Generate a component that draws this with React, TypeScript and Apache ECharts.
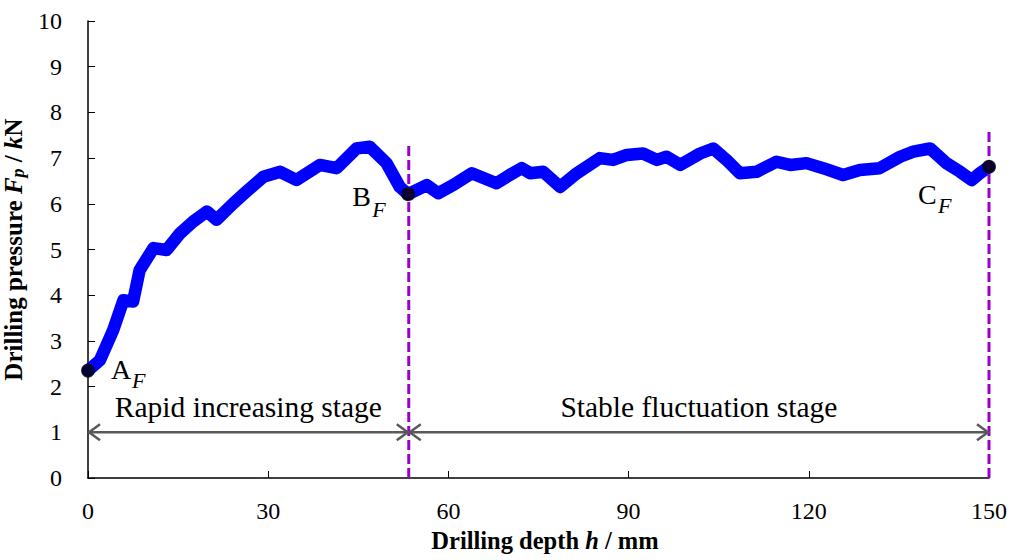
import React, { useEffect, useRef } from "react";
import * as echarts from "echarts";

// Drilling depth (mm) and drilling pressure (kN)
const depth = [0, 2.0, 4.2, 5.9, 7.5, 8.6, 10.9, 13.1, 15.3, 17.5, 19.8, 21.4, 24.2, 26.4, 29.2, 32.0, 34.7, 38.6, 41.4, 44.7, 46.9, 49.7, 51.9, 53.3, 56.4, 58.3, 60.8, 63.9, 68.0, 70.2, 72.2, 73.6, 75.8, 78.6, 81.4, 85.2, 87.4, 89.7, 92.4, 94.7, 96.3, 98.6, 101.9, 104.1, 106.3, 108.5, 111.3, 114.6, 116.9, 119.6, 122.4, 125.7, 128.5, 131.8, 135.2, 137.4, 140.2, 142.9, 145.2, 147.1, 148.5, 150];
const pressure = [2.35, 2.58, 3.24, 3.89, 3.86, 4.55, 5.03, 4.99, 5.35, 5.61, 5.83, 5.65, 6.01, 6.27, 6.59, 6.70, 6.52, 6.85, 6.78, 7.21, 7.25, 6.89, 6.37, 6.21, 6.41, 6.23, 6.41, 6.67, 6.45, 6.63, 6.78, 6.67, 6.70, 6.37, 6.67, 7.00, 6.96, 7.07, 7.10, 6.96, 7.03, 6.85, 7.10, 7.21, 6.96, 6.67, 6.70, 6.92, 6.85, 6.89, 6.78, 6.63, 6.74, 6.78, 7.03, 7.14, 7.21, 6.89, 6.70, 6.52, 6.67, 6.81];

// Key points A_F, B_F, C_F
const keyNames = ["A", "B", "C"];
const keyDepth = [0, 53.3, 150];
const keyPressure = [2.35, 6.21, 6.81];

// Stage boundaries (dashed lines) and their top values
const boundaryDepth = [53.4, 150];
const boundaryTop = [7.35, 7.6];

// Stages
const stageNames = ["Rapid increasing stage", "Stable fluctuation stage"];
const stageStart = [0, 53.4];
const stageEnd = [53.4, 150];
const stageArrowLevel = 1;
const stageTextLevel = 1.56;

// Axis ticks
const xTicks = { min: 0, max: 150, interval: 30 };
const yTicks = { min: 0, max: 10, interval: 1 };

const FONT = "Liberation Serif";

// pixel offsets of key-point labels (text middle): [letterDx, letterDy, subDx, subDy]
const labelOffsets: Record<string, number[]> = {
  A: [23, -1, 44, 10],
  B: [-56, 2.5, -36, 15.5],
  C: [-71, 27.5, -51, 38.5],
};

export default function App() {
  const ref = useRef<HTMLDivElement>(null);
  useEffect(() => {
    if (!ref.current) return;
    const chart = echarts.init(ref.current, undefined, { renderer: "svg" });
    const lineData = depth.map((d, i) => [d, pressure[i]]);
    const option: any = {
      animation: false,
      backgroundColor: "#ffffff",
      textStyle: { fontFamily: FONT },
      grid: { left: 88, right: 24, top: 21, bottom: 82, containLabel: false, outerBoundsMode: "none" },
      xAxis: {
        type: "value",
        min: xTicks.min,
        max: xTicks.max,
        interval: xTicks.interval,
        splitLine: { show: false },
        axisLine: { lineStyle: { color: "#000", width: 1.5 } },
        axisTick: { inside: true, length: 7, lineStyle: { color: "#000", width: 1 } },
        axisLabel: { fontFamily: FONT, fontSize: 24, color: "#000", margin: 21 },
        name: "Drilling depth {i|h} / mm",
        nameLocation: "middle",
        nameGap: 40,
        nameTextStyle: {
          fontFamily: FONT,
          fontSize: 24.5,
          fontWeight: "bold",
          color: "#000",
          padding: [0, 0, 0, 13],
          rich: {
            i: { fontFamily: FONT, fontSize: 24.5, fontWeight: "bold", fontStyle: "italic", color: "#000" },
          },
        },
      },
      yAxis: {
        type: "value",
        min: yTicks.min,
        max: yTicks.max,
        interval: yTicks.interval,
        splitLine: { show: false },
        axisLine: { show: true, lineStyle: { color: "#000", width: 1.5 } },
        axisTick: { show: true, inside: true, length: 7, lineStyle: { color: "#000", width: 1 } },
        axisLabel: { fontFamily: FONT, fontSize: 24, color: "#000", margin: 26 },
        name: "Drilling pressure {i|F}{s|p} / {i|k}N",
        nameLocation: "middle",
        nameGap: 55,
        nameTextStyle: {
          fontFamily: FONT,
          fontSize: 25,
          fontWeight: "bold",
          color: "#000",
          rich: {
            i: { fontFamily: FONT, fontSize: 25, fontWeight: "bold", fontStyle: "italic", color: "#000" },
            s: { fontFamily: FONT, fontSize: 18, fontWeight: "bold", fontStyle: "italic", color: "#000", padding: [9, 0, 0, 0] },
          },
        },
      },
      series: [
        {
          type: "line",
          data: lineData,
          showSymbol: false,
          clip: false,
          lineStyle: { color: "#0000FF", width: 12.5, join: "round", cap: "round" },
          z: 2,
        },
        {
          type: "custom",
          data: boundaryDepth.map((d, i) => [d, boundaryTop[i]]),
          clip: false,
          z: 3,
          renderItem: (params: any, api: any) => {
            const x = api.value(0);
            const top = api.value(1);
            const p0 = api.coord([x, 0]);
            const p1 = api.coord([x, top]);
            return {
              type: "line",
              shape: { x1: p0[0], y1: p0[1], x2: p1[0], y2: p1[1] },
              style: { stroke: "#9A00CC", lineWidth: 3, lineDash: [10, 4] },
            };
          },
        },
        {
          type: "custom",
          data: stageStart.map((s, i) => [s, stageEnd[i], stageArrowLevel]),
          clip: false,
          z: 4,
          renderItem: (params: any, api: any) => {
            const a = api.coord([api.value(0), api.value(2)]);
            const b = api.coord([api.value(1), api.value(2)]);
            const x1 = a[0] + 1;
            const x2 = b[0] - 1;
            const y = a[1];
            const L = 11;
            const H = 8;
            const st = { stroke: "#595959", lineWidth: 2.5, fill: null };
            return {
              type: "group",
              children: [
                { type: "line", shape: { x1, y1: y, x2, y2: y }, style: st },
                { type: "polyline", shape: { points: [[x1 + L, y - H], [x1, y], [x1 + L, y + H]] }, style: st },
                { type: "polyline", shape: { points: [[x2 - L, y - H], [x2, y], [x2 - L, y + H]] }, style: st },
              ],
            };
          },
        },
        {
          type: "custom",
          data: stageNames.map((n, i) => [(stageStart[i] + stageEnd[i]) / 2, stageTextLevel, i]),
          clip: false,
          z: 4,
          renderItem: (params: any, api: any) => {
            const p = api.coord([api.value(0), api.value(1)]);
            return {
              type: "text",
              x: p[0],
              y: p[1],
              style: {
                text: stageNames[api.value(2)],
                fontFamily: FONT,
                fontSize: 29.5,
                lineHeight: 20,
                fill: "#000",
                align: "center",
                verticalAlign: "middle",
              },
            };
          },
        },
        {
          type: "scatter",
          data: keyDepth.map((d, i) => [d, keyPressure[i]]),
          symbol: "circle",
          symbolSize: 14,
          clip: false,
          itemStyle: { color: "#000" },
          z: 5,
        },
        {
          type: "custom",
          data: keyDepth.map((d, i) => [d, keyPressure[i], i]),
          clip: false,
          z: 5,
          renderItem: (params: any, api: any) => {
            const p = api.coord([api.value(0), api.value(1)]);
            const name = keyNames[api.value(2)];
            const o = labelOffsets[name];
            return {
              type: "group",
              children: [
                {
                  type: "text",
                  x: p[0] + o[0],
                  y: p[1] + o[1],
                  style: { text: name, fontFamily: FONT, fontSize: 28, lineHeight: 22, fill: "#000", align: "left", verticalAlign: "middle" },
                },
                {
                  type: "text",
                  x: p[0] + o[2],
                  y: p[1] + o[3],
                  style: { text: "F", fontFamily: FONT, fontSize: 22, lineHeight: 16, fontStyle: "italic", fill: "#000", align: "left", verticalAlign: "middle" },
                },
              ],
            };
          },
        },
      ],
    };
    chart.setOption(option);
    return () => chart.dispose();
  }, []);
  return <div ref={ref} style={{ width: 1013, height: 560, position: "absolute", left: 0, top: 0 }} />;
}
